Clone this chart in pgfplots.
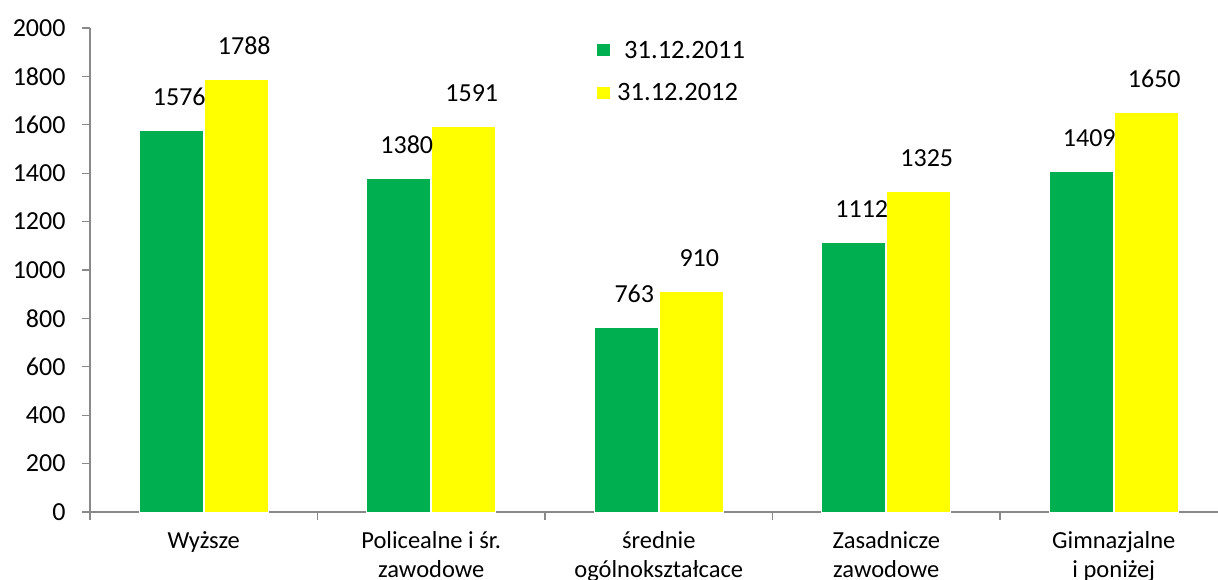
\documentclass[border=0pt]{standalone}
\usepackage{fontspec}
\setmainfont{Carlito}
\usepackage{pgfplots}
\pgfplotsset{compat=1.18}
\definecolor{cgreen}{HTML}{00B050}
\definecolor{cyellow}{HTML}{FFFF00}
\definecolor{axgray}{HTML}{898989}
\begin{document}
\begin{tikzpicture}
\clip (-90pt,-67pt) rectangle (1128pt,512pt);
\begin{axis}[
  scale only axis, width=1128pt, height=484pt,
  xmin=-0.5, xmax=4.458, ymin=0, ymax=2000,
  axis x line=bottom, axis y line=left,
  axis line style={-, draw=axgray, line width=1.2pt},
  tick style={draw=axgray, line width=1.2pt},
  tick align=outside,
  major tick length=8pt, minor tick length=8pt,
  ytick={0,200,...,2000},
  xtick={0,1,2,3,4},
  major x tick style={draw=none},
  minor xtick={-0.5,0.5,1.5,2.5,3.5},
  xticklabels={Wyższe,{Policealne i śr.\\zawodowe},{średnie\\ogólnokształcace},{Zasadnicze\\zawodowe},{Gimnazjalne\\i poniżej}},
  xticklabel style={align=center, font=\fontsize{24.5}{29}\selectfont, yshift=-8pt},
  yticklabel style={font=\fontsize{26}{30}\selectfont, xshift=-13pt},
  /pgf/number format/assume math mode=true,
  /pgf/number format/1000 sep={},
  ybar=1pt, bar width=64pt,
  nodes near coords,
  nodes near coords style={font=\fontsize{26}{30}\selectfont, inner sep=0pt, anchor=base, yshift=25pt, xshift=8pt, text=black},
  legend style={at={(0.4495,0.978)}, anchor=north west, draw=none, fill=none, font=\fontsize{26.5}{30}\selectfont, row sep=20pt, inner sep=0pt, nodes={inner xsep=7pt}},
  legend cell align=left,
  legend image code/.code={\path[#1,draw=none] (0pt,-6pt) rectangle (13pt,6pt);},
]
\addplot[fill=cgreen, draw=white, line width=1pt] coordinates {(0,1576) (1,1380) (2,763) (3,1112) (4,1409)};
\addplot[fill=cyellow, draw=white, line width=1pt] coordinates {(0,1788) (1,1591) (2,910) (3,1325) (4,1650)};
\legend{\hspace{7pt}31.12.2011,31.12.2012}
\end{axis}
\end{tikzpicture}
\end{document}
